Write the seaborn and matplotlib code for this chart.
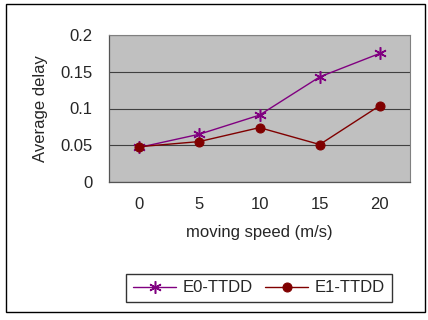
import matplotlib
matplotlib.use("Agg")
import matplotlib.pyplot as plt
import seaborn as sns
import pandas as pd
from matplotlib.patches import Rectangle

speeds = ["0", "5", "10", "15", "20"]
e0_ttdd = [0.047, 0.065, 0.091, 0.143, 0.175]
e1_ttdd = [0.048, 0.055, 0.074, 0.051, 0.104]

sns.set_style("white")
plt.rcParams['font.family'] = ['Liberation Sans', 'DejaVu Sans']
FS = 12

df = pd.DataFrame({
    "pos": list(range(len(speeds))) * 2,
    "delay": e0_ttdd + e1_ttdd,
    "series": ["E0-TTDD"] * len(speeds) + ["E1-TTDD"] * len(speeds),
})

fig = plt.figure(figsize=(4.28, 3.2), dpi=100)
ax = fig.add_axes([109 / 428, 1 - 182 / 320, (410 - 109) / 428, (182 - 35) / 320])
ax.set_facecolor("#c0c0c0")

sns.lineplot(data=df[df.series == "E0-TTDD"], x="pos", y="delay", ax=ax,
             color="#800080", marker=(6, 2, 0), markersize=9, markeredgewidth=1.1,
             markeredgecolor="#800080", linewidth=1.0, label="E0-TTDD")
sns.lineplot(data=df[df.series == "E1-TTDD"], x="pos", y="delay", ax=ax,
             color="#800000", marker="o", markersize=6.5, markeredgecolor="#800000",
             linewidth=1.0, label="E1-TTDD")

ax.set_xlim(-0.5, len(speeds) - 0.5)
ax.set_ylim(0, 0.2)
ax.set_yticks([0, 0.05, 0.1, 0.15, 0.2])
ax.set_yticklabels(["0", "0.05", "0.1", "0.15", "0.2"], fontsize=FS)
ax.set_xticks(range(len(speeds)))
ax.set_xticklabels(speeds, fontsize=FS)
ax.set_xticks([i - 0.5 for i in range(len(speeds) + 1)], minor=True)
ax.tick_params(axis="x", which="major", length=0, pad=11)
ax.tick_params(axis="x", which="minor", length=5, width=0.8, color="#555555")
ax.tick_params(axis="y", length=5, width=0.8, color="#555555", pad=7)

ax.grid(axis="y", color="#404040", linewidth=0.8)
ax.set_axisbelow(True)
for side in ["top", "right"]:
    ax.spines[side].set_color("#808080")
    ax.spines[side].set_linewidth(0.8)
for side in ["left", "bottom"]:
    ax.spines[side].set_color("#555555")
    ax.spines[side].set_linewidth(0.9)

ax.set_xlabel("moving speed (m/s)", fontsize=FS, labelpad=9)
ax.set_ylabel("Average delay", fontsize=FS, labelpad=9)

handles, labels = ax.get_legend_handles_labels()
ax.legend(handles[:2], labels[:2], loc="center", bbox_to_anchor=(259 / 428, 1 - 288 / 320),
          bbox_transform=fig.transFigure, ncol=2, frameon=True, fancybox=False,
          edgecolor="black", fontsize=FS, handlelength=2.6, handletextpad=0.4,
          columnspacing=0.7, borderpad=0.4)
ax.get_legend().get_frame().set_linewidth(1.0)

fig.patches.append(Rectangle((6 / 428, 1 - 312 / 320), (425 - 6) / 428, (312 - 4) / 320,
                             transform=fig.transFigure, fill=False,
                             edgecolor="black", linewidth=1.0))

fig.savefig("out.png", dpi=100)
